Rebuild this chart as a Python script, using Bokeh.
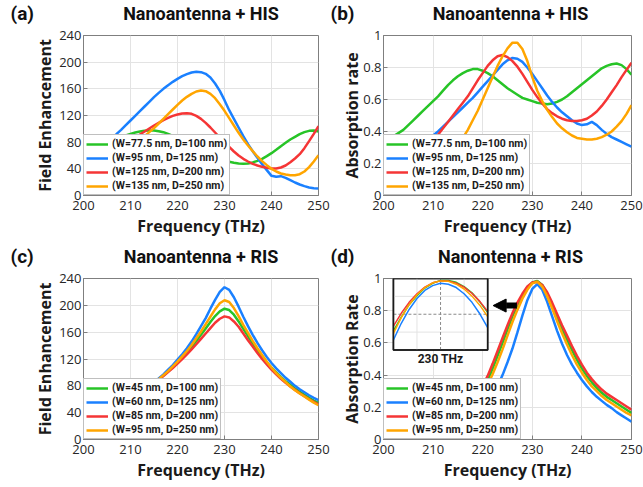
from bokeh.plotting import figure
from bokeh.layouts import column, row
from bokeh.models import (Label, FixedTicker, NumeralTickFormatter, Range1d,
                          Arrow, NormalHead)
from bokeh.core.properties import value
from bokeh.embed import file_html
from bokeh.resources import INLINE

# ---------------- data ----------------
freq = list(range(200, 251))
x_ticks = [200, 210, 220, 230, 240, 250]
fe_ticks = [0, 40, 80, 120, 160, 200, 240]
ab_ticks = [0, 0.2, 0.4, 0.6, 0.8, 1.0]

panel_letters = ["(a)", "(b)", "(c)", "(d)"]
panel_titles = ["Nanoantenna + HIS", "Nanoantenna + HIS", "Nanoantenna + RIS", "Nanontenna + RIS"]
labels_his = ["(W=77.5 nm, D=100 nm)", "(W=95 nm, D=125 nm)",
              "(W=125 nm, D=200 nm)", "(W=135 nm, D=250 nm)"]
labels_ris = ["(W=45 nm, D=100 nm)", "(W=60 nm, D=125 nm)",
              "(W=85 nm, D=200 nm)", "(W=95 nm, D=250 nm)"]

# (a) Nanoantenna + HIS : field enhancement
a_w775 = [55, 59, 63, 67, 71, 75, 79, 83, 87, 90, 92.5, 94.5, 96, 97, 97.5, 97.5, 96.5, 95, 92.5, 89.5,
          86, 82, 77.5, 73, 68.5, 64.5, 61, 58, 55.5, 53.5, 52, 50.5, 49, 48, 47.5, 48, 49.5, 52, 55, 59,
          63.5, 68.5, 74, 79, 84, 88, 92, 95, 97, 97.5, 96]
a_w95 = [60, 63, 67, 71, 75.5, 80.5, 86, 92, 98.5, 105.5, 112.5, 119.5, 126.5, 133.5, 140.5, 147.5, 154, 160, 165.5, 170.5,
         175, 179, 182, 184.5, 185.5, 185, 182.5, 177, 168, 157, 143, 128, 115, 102, 89, 77, 66.5, 56.5, 47, 38,
         29.5, 28, 29, 26.5, 23, 19.5, 16.5, 14, 12, 11, 10.5]
a_w125 = [44, 48, 52, 56, 60, 64, 68, 72, 75.5, 79, 83, 87, 91.5, 96, 100.5, 105, 109, 113, 116.5, 119.5,
          121.5, 123, 123.5, 122.5, 119.5, 115, 109, 102, 94.5, 87, 80, 73, 66, 60, 55, 51, 47.5, 45, 43, 41.5,
          40.5, 40.5, 42, 45, 50, 55.5, 62, 71, 81.5, 92.5, 104]
a_w135 = [35, 38, 41, 44, 48, 52, 56, 60, 64.5, 69, 74, 78.5, 83.5, 89, 95, 101, 108, 115, 122, 129,
          136, 142.5, 148, 152.5, 156, 157.5, 156.5, 152.5, 146, 137, 127, 116, 105, 94, 84, 75, 66.5, 58.5, 51.5, 45.5,
          40, 36, 33, 31.5, 30.5, 30.5, 32, 36, 42.5, 51, 60.5]

# (b) Nanoantenna + HIS : absorption rate
b_w775 = [0.33, 0.35, 0.37, 0.39, 0.41, 0.44, 0.47, 0.50, 0.53, 0.56, 0.59, 0.62, 0.655, 0.69, 0.72, 0.745, 0.765,
          0.78, 0.79, 0.79, 0.78, 0.765, 0.745, 0.72, 0.695, 0.67, 0.65, 0.63, 0.61, 0.6, 0.59, 0.58, 0.575, 0.57,
          0.575, 0.585, 0.6, 0.62, 0.645, 0.67, 0.695, 0.72, 0.745, 0.77, 0.795, 0.81, 0.82, 0.825, 0.815, 0.79, 0.755]
b_w95 = [0.2, 0.21, 0.22, 0.235, 0.25, 0.27, 0.29, 0.31, 0.33, 0.35, 0.375, 0.40, 0.43, 0.46, 0.49, 0.52, 0.55,
         0.58, 0.61, 0.645, 0.68, 0.715, 0.75, 0.785, 0.82, 0.845, 0.86, 0.855, 0.835, 0.80, 0.76, 0.715, 0.67, 0.625,
         0.585, 0.55, 0.52, 0.495, 0.47, 0.45, 0.44, 0.445, 0.46, 0.44, 0.41, 0.385, 0.365, 0.35, 0.335, 0.32, 0.305]
b_w125 = [0.17, 0.18, 0.19, 0.2, 0.22, 0.24, 0.26, 0.28, 0.30, 0.32, 0.35, 0.38, 0.42, 0.46, 0.50, 0.54, 0.58,
          0.62, 0.67, 0.72, 0.765, 0.81, 0.845, 0.87, 0.878, 0.865, 0.84, 0.805, 0.76, 0.71, 0.66, 0.615, 0.575, 0.54,
          0.515, 0.495, 0.48, 0.47, 0.465, 0.465, 0.47, 0.48, 0.5, 0.525, 0.56, 0.6, 0.645, 0.69, 0.74, 0.785, 0.83]
b_w135 = [0.1, 0.1, 0.11, 0.11, 0.12, 0.13, 0.14, 0.15, 0.16, 0.18, 0.19, 0.21, 0.23, 0.26, 0.29, 0.32, 0.36,
          0.41, 0.47, 0.53, 0.6, 0.67, 0.74, 0.81, 0.87, 0.92, 0.955, 0.955, 0.915, 0.84, 0.74, 0.655, 0.59, 0.535,
          0.49, 0.45, 0.42, 0.395, 0.375, 0.36, 0.355, 0.35, 0.35, 0.355, 0.365, 0.38, 0.40, 0.43, 0.465, 0.51, 0.565]

# (c) Nanoantenna + RIS : field enhancement
c_w45 = [28, 30, 32, 34, 37, 40, 43, 47, 51, 55, 59.5, 64, 69, 74, 79, 84, 89.5, 95.5, 101.5, 108,
         115, 122, 130, 138, 147, 156, 165.5, 175, 184, 191, 195, 193, 186, 176, 165, 154, 143.5, 133.5, 124, 115,
         107, 100, 93, 87, 81.5, 76, 71, 66.5, 62, 58, 54.5]
c_w60 = [28, 30, 32, 34, 37, 40, 43, 47, 51, 55, 60, 65, 70, 75, 80, 85, 91, 97, 104, 111,
         119, 127, 136, 146, 157, 169, 181, 195, 208, 220, 227, 223, 212, 198, 183, 169, 156, 144, 133, 123,
         114, 106, 99, 92, 86, 80, 75, 70.5, 66, 62, 58.5]
c_w85 = [28, 30, 32, 34, 37, 40, 43, 47, 51, 55, 59.5, 64, 69, 74, 79, 84, 89, 94.5, 100.5, 106.5,
         113, 120, 127, 134.5, 142, 150, 158, 166, 174, 180, 183.5, 182, 176, 168, 158, 148, 138.5, 129, 120, 112,
         104, 97, 90.5, 84.5, 79, 74, 69, 64.5, 60, 56, 52.5]
c_w95 = [28, 30, 32, 34, 37, 40, 43, 47, 51, 55, 59.5, 64, 69, 74, 79, 84, 90, 96, 102, 109,
         116, 124, 132, 141, 151, 161, 172, 183, 194, 203, 207.5, 205, 196, 184, 171, 159, 147, 136, 126, 116,
         107, 99, 92, 85.5, 79, 73.5, 68.5, 64, 59.5, 55, 51]

# (d) Nanontenna + RIS : absorption rate
d_w45 = [0.065, 0.07, 0.075, 0.08, 0.085, 0.09, 0.095, 0.1, 0.11, 0.12, 0.13, 0.14, 0.155, 0.165, 0.18, 0.195, 0.21,
         0.23, 0.255, 0.28, 0.315, 0.37, 0.44, 0.52, 0.6, 0.685, 0.765, 0.835, 0.895, 0.945, 0.975, 0.985, 0.96,
         0.905, 0.835, 0.76, 0.685, 0.62, 0.555, 0.495, 0.44, 0.395, 0.355, 0.32, 0.29, 0.265, 0.245, 0.225, 0.205,
         0.185, 0.165]
d_w60 = [0.05, 0.055, 0.06, 0.065, 0.07, 0.075, 0.08, 0.085, 0.09, 0.1, 0.105, 0.115, 0.125, 0.135, 0.145, 0.155, 0.16,
         0.17, 0.185, 0.2, 0.225, 0.25, 0.285, 0.33, 0.4, 0.48, 0.565, 0.665, 0.77, 0.865, 0.935, 0.965, 0.93,
         0.855, 0.765, 0.675, 0.595, 0.525, 0.465, 0.415, 0.37, 0.33, 0.295, 0.265, 0.24, 0.215, 0.195, 0.17, 0.15,
         0.13, 0.11]
d_w85 = [0.07, 0.075, 0.08, 0.085, 0.09, 0.095, 0.1, 0.11, 0.12, 0.13, 0.14, 0.15, 0.165, 0.18, 0.195, 0.21, 0.225,
         0.245, 0.27, 0.3, 0.335, 0.395, 0.47, 0.55, 0.63, 0.71, 0.785, 0.85, 0.905, 0.95, 0.975, 0.98, 0.96,
         0.915, 0.85, 0.78, 0.71, 0.645, 0.58, 0.52, 0.465, 0.415, 0.375, 0.34, 0.31, 0.285, 0.265, 0.245, 0.225,
         0.205, 0.185]
d_w95 = [0.06, 0.065, 0.07, 0.075, 0.08, 0.085, 0.09, 0.095, 0.105, 0.115, 0.125, 0.135, 0.145, 0.155, 0.17, 0.185, 0.2,
         0.215, 0.235, 0.26, 0.29, 0.34, 0.405, 0.48, 0.56, 0.645, 0.73, 0.805, 0.875, 0.93, 0.97, 0.98, 0.95,
         0.89, 0.815, 0.735, 0.66, 0.59, 0.525, 0.465, 0.415, 0.37, 0.33, 0.3, 0.27, 0.245, 0.225, 0.205, 0.185,
         0.165, 0.15]

# (d) inset: zoom around the 230 THz peak
inset_freq = [228.5, 228.75, 229.0, 229.25, 229.5, 229.75, 230.0, 230.25, 230.5, 230.75, 231.0, 231.25, 231.5]
inset_w45 = [0.890, 0.919, 0.945, 0.964, 0.980, 0.990, 0.996, 0.996, 0.992, 0.983, 0.970, 0.951, 0.929]
inset_w60 = [0.871, 0.906, 0.935, 0.958, 0.975, 0.985, 0.990, 0.988, 0.981, 0.968, 0.950, 0.926, 0.897]
inset_w85 = [0.900, 0.927, 0.950, 0.968, 0.982, 0.991, 0.995, 0.995, 0.990, 0.982, 0.969, 0.952, 0.931]
inset_w95 = [0.885, 0.918, 0.945, 0.966, 0.981, 0.991, 0.995, 0.994, 0.988, 0.978, 0.963, 0.944, 0.920]
inset_x_grid = [229.25, 230.75]
inset_y_grid = [0.8875, 0.9625]
inset_mark_x = 230.0
inset_mark_y = 0.925

# ---------------- styling ----------------
COLORS = ["#27c427", "#1a80ff", "#f53535", "#ffa500"]
FONT = "Open Sans"
HFONT = "Roboto"
GRAY = "#7f7f7f"
TOTAL_W = 643


def make_panel(fw, fh, left, right, top, bottom, yrange, yticks, ylabel,
               series, labels, absorb=False):
    p = figure(frame_width=fw, frame_height=fh, title=None,
               x_range=Range1d(200, 250), y_range=Range1d(*yrange),
               output_backend="svg", toolbar_location=None,
               min_border_left=left, min_border_right=right,
               min_border_top=top, min_border_bottom=bottom,
               background_fill_color="white", border_fill_color="white")
    p.outline_line_color = GRAY
    p.outline_line_width = 1
    p.xaxis.ticker = FixedTicker(ticks=x_ticks)
    p.yaxis.ticker = FixedTicker(ticks=yticks)
    if absorb:
        p.yaxis.formatter = NumeralTickFormatter(format="0.[0]")
    for ax in (p.xaxis[0], p.yaxis[0]):
        ax.axis_line_color = GRAY
        ax.major_tick_line_color = GRAY
        ax.major_tick_in = 4
        ax.major_tick_out = 0
        ax.minor_tick_line_color = None
        ax.major_label_text_font = FONT
        ax.major_label_text_font_size = "13px"
        ax.major_label_text_color = "#262626"
        ax.axis_label_text_font = FONT
        ax.axis_label_text_font_size = "16px"
        ax.axis_label_text_font_style = "bold"
        ax.axis_label_text_color = "#1a1a1a"
    p.xaxis.major_label_standoff = 5
    p.xaxis.axis_label_standoff = 2
    p.yaxis.major_label_standoff = 2
    p.yaxis.axis_label_standoff = -3 if absorb else 0
    p.xaxis.axis_label = "Frequency (THz)"
    p.yaxis.axis_label = ylabel
    p.grid.grid_line_color = "#e3e3e3"
    p.grid.grid_line_width = 1

    for ys, col, lab in zip(series, COLORS, labels):
        p.line(freq, ys, line_color=col, line_width=2.5, legend_label=lab)

    lg = p.legend[0]
    lg.location = "bottom_left"
    lg.margin = 0
    lg.padding = 2
    lg.spacing = 1
    lg.label_height = 12
    lg.glyph_height = 12
    lg.glyph_width = 22
    lg.label_standoff = 4
    lg.label_text_font = HFONT
    lg.label_text_font_size = "10.5px"
    lg.label_text_font_style = "bold"
    lg.label_text_color = "#1a1a1a"
    lg.border_line_color = GRAY
    lg.border_line_width = 1
    lg.background_fill_alpha = 1.0
    return p


def make_header(height, ymid, letters, titles):
    h = figure(width=TOTAL_W, height=height, title=None,
               x_range=Range1d(0, TOTAL_W), y_range=Range1d(height, 0),
               x_axis_type=None, y_axis_type=None,
               min_border=0, min_border_left=0, min_border_right=0,
               min_border_top=0, min_border_bottom=0,
               output_backend="svg", toolbar_location=None,
               outline_line_color=None,
               background_fill_color="white", border_fill_color="white")
    h.text(x=[10, 330], y=[ymid, ymid], text=letters,
           text_font=value(HFONT), text_font_size="19px", text_font_style="bold",
           text_color="#111111", text_align="left", text_baseline="middle")
    h.text(x=[200.5, 510], y=[ymid, ymid], text=titles,
           text_font=value(HFONT), text_font_size="18px", text_font_style="bold",
           text_color="#111111", text_align="center", text_baseline="middle")
    return h


hdr1 = make_header(25, 13.2, panel_letters[:2], panel_titles[:2])
hdr2 = make_header(29, 17.3, panel_letters[2:], panel_titles[2:])

pa = make_panel(235, 160, 83, 13, 10, 44, (0, 240), fe_ticks, "Field Enhancement",
                [a_w775, a_w95, a_w125, a_w135], labels_his)
pb = make_panel(248, 160, 52, 12, 10, 44, (0, 1), ab_ticks, "Absorption rate",
                [b_w775, b_w95, b_w125, b_w135], labels_his, absorb=True)
pc = make_panel(235, 161, 83, 13, 10, 44, (0, 240), fe_ticks, "Field Enhancement",
                [c_w45, c_w60, c_w85, c_w95], labels_ris)
pd = make_panel(248, 161, 52, 12, 10, 44, (0, 1), ab_ticks, "Absorption Rate",
                [d_w45, d_w60, d_w85, d_w95], labels_ris, absorb=True)

# ---- inset in (d): its own scales mapped onto a box in the upper-left ----
bx0, bx1, by0, by1 = 202.0, 221.0, 0.556, 1.0
ix0, ix1 = inset_freq[0], inset_freq[-1]
iy0, iy1 = 0.85, 1.0
sx = (ix1 - ix0) / (bx1 - bx0)
sy = (iy1 - iy0) / (by1 - by0)
pd.extra_x_ranges = {"ix": Range1d(ix0 - (bx0 - 200) * sx, ix1 + (250 - bx1) * sx)}
pd.extra_y_ranges = {"iy": Range1d(iy0 - (by0 - 0) * sy, iy1 + (1.0 - by1) * sy)}

pd.quad(left=[ix0], right=[ix1], bottom=[iy0], top=[iy1],
        x_range_name="ix", y_range_name="iy",
        fill_color="white", line_color="#1a1a1a", line_width=1.5)
for gx in inset_x_grid:
    pd.segment(x0=[gx], y0=[iy0], x1=[gx], y1=[iy1], x_range_name="ix", y_range_name="iy",
               line_color="#e3e3e3", line_width=1)
for gy in inset_y_grid:
    pd.segment(x0=[ix0], y0=[gy], x1=[ix1], y1=[gy], x_range_name="ix", y_range_name="iy",
               line_color="#e3e3e3", line_width=1)
pd.segment(x0=[inset_mark_x], y0=[iy0], x1=[inset_mark_x], y1=[iy1],
           x_range_name="ix", y_range_name="iy",
           line_color="#8a8a8a", line_width=1, line_dash="3 2")
pd.segment(x0=[ix0], y0=[inset_mark_y], x1=[ix1], y1=[inset_mark_y],
           x_range_name="ix", y_range_name="iy",
           line_color="#8a8a8a", line_width=1, line_dash="3 2")
for ys, col in zip([inset_w45, inset_w60, inset_w85, inset_w95], COLORS):
    pd.line(inset_freq, ys, x_range_name="ix", y_range_name="iy",
            line_color=col, line_width=1.5)
pd.quad(left=[ix0], right=[ix1], bottom=[iy0], top=[iy1],
        x_range_name="ix", y_range_name="iy",
        fill_alpha=0, line_color="#1a1a1a", line_width=1.5)

pd.add_layout(Label(x=(bx0 + bx1) / 2, y=0.503, text="230 THz",
                    text_align="center", text_baseline="middle",
                    text_font=HFONT, text_font_size="12px",
                    text_font_style="bold", text_color="#1a1a1a"))
pd.add_layout(Arrow(end=NormalHead(size=13, fill_color="black", line_color="black"),
                    x_start=226.9, y_start=0.832, x_end=222.1, y_end=0.832,
                    line_width=6, line_color="black"))

layout = column(hdr1, row(pa, pb), hdr2, row(pc, pd))

open("out.html", "w").write(file_html(layout, INLINE))
